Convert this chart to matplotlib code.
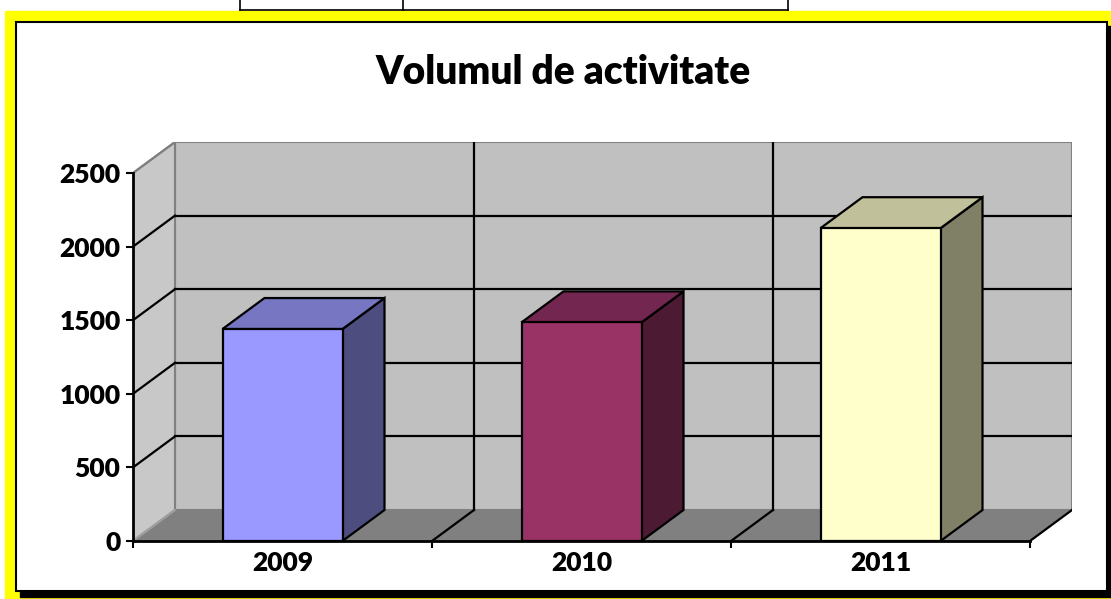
import matplotlib
matplotlib.use("Agg")
import matplotlib.pyplot as plt
from matplotlib.patches import Polygon, Rectangle
from matplotlib.lines import Line2D

plt.rcParams['font.family'] = ['Lato', 'DejaVu Sans']

# data
years = ['2009', '2010', '2011']
values = [1440, 1485, 2125]
yticks = [0, 500, 1000, 1500, 2000, 2500]
title = 'Volumul de activitate'

# styles (front, top, side)
front_cols = ['#9999FF', '#993366', '#FFFFCC']
top_cols = ['#7676C2', '#732650', '#C0C09A']
side_cols = ['#4D4D80', '#4D1A33', '#808066']

W, H = 1111, 599
fig = plt.figure(figsize=(W / 100, H / 100), dpi=100)


def fx(x):
    return x / W


def fy(y):
    return 1 - y / H


# frame: yellow border, black shadow, white panel
fig.add_artist(Rectangle((fx(5), fy(599)), fx(1106), 588 / H,
                         transform=fig.transFigure, color='#FFFF00', zorder=0))
fig.add_artist(Rectangle((fx(20), fy(597)), fx(1091), 571 / H,
                         transform=fig.transFigure, color='black', zorder=0.1))
fig.add_artist(Rectangle((fx(16), fy(591)), fx(1091), 569 / H,
                         transform=fig.transFigure, facecolor='white',
                         edgecolor='black', lw=1.5, zorder=0.2))

# bits of the table above the chart
for seg in [((240, 788), (10, 10)), ((240, 240), (0, 10)),
            ((403, 403), (0, 10)), ((788, 788), (0, 10))]:
    fig.add_artist(Line2D([fx(v) for v in seg[0]], [fy(v) for v in seg[1]],
                          transform=fig.transFigure, color='black', lw=1.2))

fig.text(fx(563), fy(72), title, ha='center', va='center',
         fontsize=28, fontweight='heavy')

ax = fig.add_axes([fx(133), fy(541), fx(939), 399 / H])
ax.set_zorder(1)
ncat = len(years)
dx = 42 / 299.0
dy = 31 / 0.1472
ymax = yticks[-1]
ax.set_xlim(0, ncat + dx)
ax.set_ylim(0, ymax + dy)
ax.patch.set_visible(False)

wall = '#C0C0C0'
edge = '#808080'
# back wall
ax.add_patch(Rectangle((dx, dy), ncat, ymax, facecolor=wall, edgecolor=edge,
                       lw=1.5, zorder=1))
# left wall
ax.add_patch(Polygon([(0, 0), (dx, dy), (dx, ymax + dy), (0, ymax)],
                     facecolor='#C8C8C8', edgecolor=edge, lw=1.5, zorder=1))
# floor
ax.add_patch(Polygon([(0, 0), (ncat, 0), (ncat + dx, dy), (dx, dy)],
                     facecolor='#808080', edgecolor='none', zorder=1.5))
ax.plot([0, dx], [0, dy], color='#A0A0A0', lw=1.5, zorder=1.6)

# gridlines
for v in yticks[1:-1]:
    ax.plot([dx, ncat + dx], [v + dy, v + dy], color='black', lw=1.6, zorder=2)
    ax.plot([0, dx], [v, v + dy], color='black', lw=1.6, zorder=2)
ax.plot([0, dx], [ymax, ymax + dy], color=edge, lw=1.5, zorder=2)
for c in range(1, ncat):
    ax.plot([c + dx, c + dx], [dy, ymax + dy], color='black', lw=1.6, zorder=2)
for c in range(1, ncat + 1):
    ax.plot([c, c + dx], [0, dy], color='black', lw=1.6, zorder=2)

# bars
bw = 120 / 299.0
for i, (yr, val) in enumerate(zip(years, values)):
    x0 = i + 0.5 - bw / 2
    ax.add_patch(Polygon([(x0 + bw, 0), (x0 + bw + dx, dy),
                          (x0 + bw + dx, val + dy), (x0 + bw, val)],
                         facecolor=side_cols[i], edgecolor='black', lw=1.6,
                         zorder=3))
    ax.add_patch(Polygon([(x0, val), (x0 + bw, val), (x0 + bw + dx, val + dy),
                          (x0 + dx, val + dy)],
                         facecolor=top_cols[i], edgecolor='black', lw=1.6,
                         zorder=3))
    ax.add_patch(Rectangle((x0, 0), bw, val, facecolor=front_cols[i],
                           edgecolor='black', lw=1.6, zorder=3.5))

# axes
for s in ['top', 'right']:
    ax.spines[s].set_visible(False)
ax.spines['left'].set_bounds(0, ymax)
ax.spines['bottom'].set_bounds(0, ncat)
for s in ['left', 'bottom']:
    ax.spines[s].set_linewidth(2)
    ax.spines[s].set_zorder(4)
ax.set_yticks(yticks)
ax.set_yticklabels([str(v) for v in yticks], fontsize=19, fontweight='heavy')
ax.set_xticks(range(ncat + 1))
ax.set_xticklabels([''] * (ncat + 1))
ax.set_xticks([i + 0.5 for i in range(ncat)], minor=True)
ax.set_xticklabels(years, minor=True, fontsize=19, fontweight='heavy')
ax.tick_params(axis='both', which='major', direction='out', length=5,
               width=1.5, color='black')
ax.tick_params(axis='y', pad=4)
ax.tick_params(axis='x', which='minor', length=0, pad=7)

fig.savefig('out.png', dpi=100)
